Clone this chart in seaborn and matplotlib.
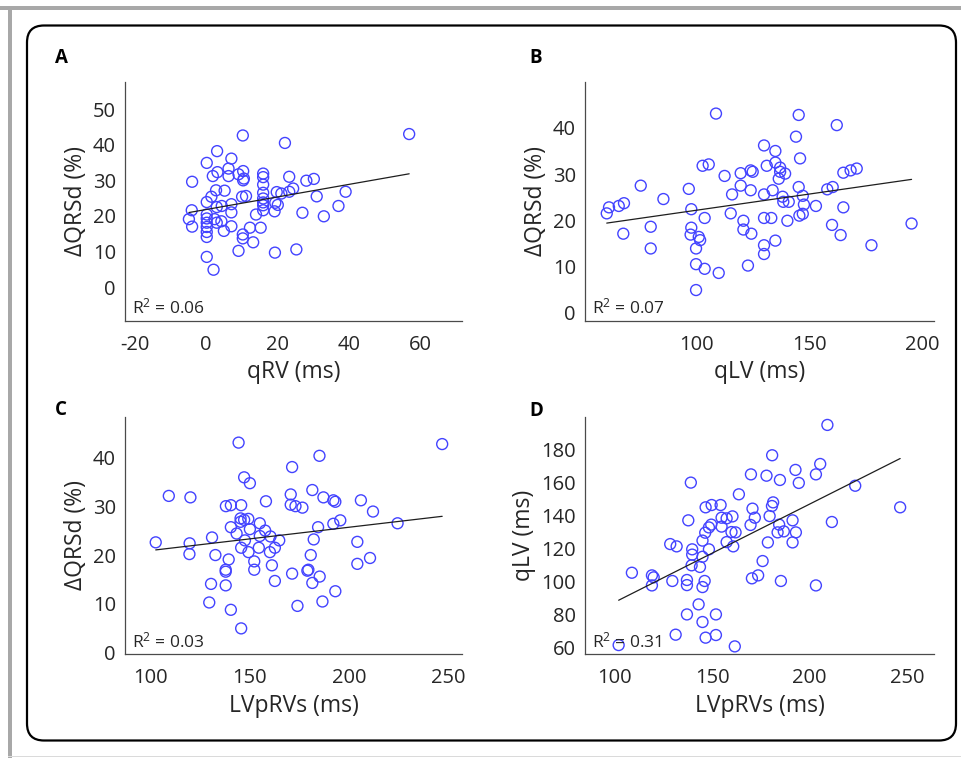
import numpy as np
import pandas as pd
import seaborn as sns
import matplotlib.pyplot as plt
from matplotlib.patches import FancyBboxPatch, Rectangle

# Panel A: qRV vs change in QRS duration
qrv_a = [56.9, 10.3, 22.1, 3.1, 7.1, 0.2, 6.3, 3.2, 10.4, 1.9,
         6.3, 9.1, 16.0, 16.0, 10.4, 10.6, -3.9, 23.3, 28.1, 30.2,
         16.0, 2.8, 5.2, 16.0, 19.8, 21.1, 23.3, 24.4, 39.1, 31.0,
         1.5, 10.1, 11.2, 0.2, 16.0, 16.0, 16.0, 16.0, 3.0, 4.4,
         7.1, 7.1, -4.0, 19.4, 20.1, 19.2, 14.0, 27.0, 37.1, 33.0,
         -4.8, -3.9, 0.2, 0.2, 0.2, 0.2, 0.2, 0.2, 2.4, 3.0,
         4.3, 7.1, 5.0, 12.3, 15.3, 10.3, 10.3, 13.2, 9.1, 19.3,
         25.3, 0.2, 2.1]
qrsd_a = [43.0, 42.6, 40.5, 38.2, 36.1, 34.9, 33.3, 32.3, 32.6, 31.2,
          31.2, 31.7, 31.9, 30.9, 30.0, 30.5, 29.6, 31.0, 29.9, 30.4,
          28.8, 27.2, 27.1, 26.5, 26.7, 26.3, 26.8, 27.7, 26.8, 25.5,
          25.4, 25.4, 25.6, 23.9, 24.9, 23.8, 23.0, 21.6, 22.5, 22.8,
          23.3, 21.0, 21.6, 23.7, 23.1, 21.3, 20.4, 20.9, 22.8, 19.9,
          19.1, 17.0, 20.4, 19.3, 18.1, 16.9, 15.5, 14.1, 19.1, 18.1,
          18.5, 17.1, 15.8, 16.7, 16.7, 14.8, 13.7, 12.6, 10.2, 9.7,
          10.6, 8.5, 4.9]

# Panel B: qLV vs change in QRS duration
qlv_b = [108.8, 145.3, 162.1, 144.1, 130.0, 135.0, 145.9, 135.0, 131.2, 102.9,
         105.6, 137.1, 137.1, 139.3, 136.5, 112.6, 119.7, 124.1, 125.0, 165.0,
         168.2, 170.9, 75.6, 96.8, 119.7, 124.1, 133.8, 145.3, 157.9, 160.3,
         115.9, 130.0, 147.1, 138.2, 138.5, 140.9, 85.6, 60.6, 61.6, 65.9,
         68.2, 97.9, 103.8, 115.3, 147.6, 152.9, 165.0, 145.6, 147.1, 130.0,
         133.2, 140.3, 120.9, 120.9, 124.4, 195.1, 160.0, 163.8, 177.4, 80.0,
         67.9, 97.9, 97.6, 101.2, 101.8, 100.0, 80.0, 130.0, 135.0, 130.0,
         100.0, 103.8, 110.0, 122.9, 100.0]
qrsd_b = [43.1, 42.8, 40.6, 38.1, 36.2, 35.0, 33.4, 32.5, 31.8, 31.8,
          32.1, 31.4, 30.5, 30.1, 29.0, 29.6, 30.2, 30.8, 30.5, 30.3,
          30.8, 31.2, 27.5, 26.8, 27.5, 26.5, 26.5, 27.2, 26.7, 27.2,
          25.6, 25.6, 25.3, 25.1, 24.0, 24.0, 24.6, 21.5, 22.8, 23.1,
          23.7, 22.4, 20.5, 21.5, 23.4, 23.1, 22.8, 21.0, 21.4, 20.5,
          20.5, 19.9, 19.9, 18.0, 17.1, 19.3, 19.0, 16.8, 14.6, 18.6,
          17.1, 18.4, 16.9, 16.4, 15.7, 13.9, 13.9, 14.6, 15.6, 12.7,
          10.5, 9.5, 8.6, 10.2, 4.9]

# Panel C: LVpRVs vs change in QRS duration
lvprvs_c = [144.3, 247.0, 185.1, 171.3, 147.1, 150.0, 181.5, 109.1, 120.0, 170.6,
            187.1, 158.1, 192.1, 193.1, 206.0, 212.1, 137.9, 140.4, 145.6, 170.6,
            173.0, 176.5, 145.3, 145.3, 147.1, 149.2, 155.0, 140.4, 184.4, 192.1,
            195.6, 224.5, 150.0, 143.3, 157.7, 155.0, 160.4, 130.9, 102.5, 119.6,
            147.5, 164.8, 182.2, 204.2, 145.6, 154.5, 162.6, 149.3, 160.1, 119.5,
            132.6, 180.7, 139.3, 152.2, 161.1, 204.2, 210.6, 137.8, 137.8, 152.2,
            171.3, 179.0, 179.5, 185.2, 181.5, 162.6, 130.4, 137.8, 193.1, 129.5,
            186.6, 174.0, 140.4, 145.6]
qrsd_c = [43.0, 42.7, 40.3, 38.0, 35.9, 34.7, 33.3, 32.1, 31.8, 32.4,
          31.8, 31.0, 31.2, 30.9, 31.2, 28.9, 30.0, 30.2, 30.2, 30.3,
          30.0, 29.7, 27.5, 26.8, 27.2, 27.4, 26.5, 25.7, 25.7, 26.4,
          27.1, 26.5, 25.3, 24.4, 25.0, 23.9, 23.8, 23.6, 22.6, 22.4,
          23.0, 23.0, 23.2, 22.7, 21.5, 21.5, 21.5, 20.6, 20.6, 20.2,
          20.0, 20.0, 19.1, 18.7, 17.9, 18.2, 19.4, 17.0, 16.6, 17.0,
          16.2, 16.8, 17.0, 15.6, 14.3, 14.7, 14.1, 13.8, 12.6, 10.3,
          10.5, 9.6, 8.8, 5.0]

# Panel D: LVpRVs vs qLV
lvprvs_d = [209.2, 180.8, 205.5, 192.8, 203.3, 169.9, 177.9, 184.8, 194.5, 139.0,
            223.5, 163.7, 146.6, 149.7, 154.3, 170.7, 181.3, 180.7, 246.6, 154.8,
            157.4, 160.4, 171.9, 179.5, 137.7, 191.3, 211.5, 149.5, 148.3, 154.8,
            169.7, 184.4, 146.4, 159.9, 162.0, 183.6, 186.8, 193.0, 145.0, 157.4,
            178.6, 191.3, 128.4, 131.7, 160.8, 139.7, 148.3, 139.7, 145.0, 139.4,
            143.7, 175.9, 108.7, 119.0, 119.9, 119.0, 129.5, 137.0, 137.0, 146.1,
            145.0, 170.4, 173.6, 185.3, 203.3, 143.0, 137.0, 151.9, 145.0, 131.2,
            146.6, 151.9, 101.9, 161.6]
qlv_d = [195.2, 176.8, 171.5, 167.9, 165.2, 165.2, 164.4, 161.8, 160.0, 160.2,
         158.3, 153.1, 145.2, 146.6, 146.6, 144.4, 148.2, 146.0, 145.2, 138.9,
         138.5, 139.7, 138.9, 139.9, 137.3, 137.3, 136.3, 134.7, 133.0, 133.5,
         134.5, 134.7, 129.8, 130.2, 130.0, 130.0, 130.6, 130.0, 125.0, 124.1,
         123.9, 123.9, 122.9, 121.5, 121.5, 119.7, 119.7, 116.5, 115.2, 110.0,
         109.0, 112.6, 105.5, 103.9, 102.7, 97.8, 100.5, 101.1, 98.0, 100.5,
         96.8, 102.1, 103.9, 100.5, 97.8, 86.3, 80.2, 80.2, 75.6, 67.9,
         66.1, 67.7, 61.6, 60.8]

panel_letters = ['A', 'B', 'C', 'D']
x_labels = ['qRV (ms)', 'qLV (ms)', 'LVpRVs (ms)', 'LVpRVs (ms)']
y_labels = ['\u0394QRSd (%)', '\u0394QRSd (%)', '\u0394QRSd (%)', 'qLV (ms)']
r2_labels = ['0.06', '0.07', '0.03', '0.31']

sns.set_theme(style='white')
plt.rcParams['font.family'] = ['Open Sans', 'DejaVu Sans']
plt.rcParams['mathtext.fontset'] = 'custom'
plt.rcParams['mathtext.rm'] = 'Open Sans'
plt.rcParams['mathtext.it'] = 'Open Sans'
plt.rcParams['axes.unicode_minus'] = False

text_col = '#262626'
axis_col = '#4a4a4a'
dot_col = '#4343ff'

W, H = 961, 758
fig = plt.figure(figsize=(W / 100, H / 100), dpi=100)

# background: grey page edge and rounded black frame, drawn in pixel units
bg = fig.add_axes([0, 0, 1, 1], zorder=-1)
bg.set_xlim(0, W)
bg.set_ylim(H, 0)
bg.axis('off')
bg.add_patch(Rectangle((0, 6), W, 4, color='#a8a8a8', lw=0))
bg.add_patch(Rectangle((8, 6), 4, H - 6, color='#a8a8a8', lw=0))
bg.add_patch(Rectangle((8, 755.5), W - 8, 1.5, color='#dadada', lw=0))
bg.add_patch(FancyBboxPatch((27, 25.5), 929, 715,
                            boxstyle='round,pad=0,rounding_size=17',
                            fill=False, ec='black', lw=1.6))

# layout in pixels: left, right, top, bottom of each axes
boxes = [(125, 462, 81.7, 321), (585, 934, 81.7, 321),
         (125, 462, 416.7, 654.3), (585, 934, 416.7, 654.3)]
letter_pos = [(55, 63.3), (529.5, 63.3), (55, 415), (529.5, 415.5)]
xlims = [(-22.7, 71.7), (51, 205), (87, 257), (84.6, 264)]
ylims = [(-9.5, 57.7), (-1.8, 50), (-0.3, 48.3), (56, 200.2)]
xticks = [[-20, 0, 20, 40, 60], [100, 150, 200], [100, 150, 200, 250], [100, 150, 200, 250]]
yticks = [np.arange(0, 51, 10), np.arange(0, 41, 10), np.arange(0, 41, 10), np.arange(60, 181, 20)]

panels = [(qrv_a, qrsd_a), (qlv_b, qrsd_b), (lvprvs_c, qrsd_c), (lvprvs_d, qlv_d)]

for i, (xs, ys) in enumerate(panels):
    l, r, t, b = boxes[i]
    ax = fig.add_axes([l / W, 1 - b / H, (r - l) / W, (b - t) / H])
    df = pd.DataFrame({'x': xs, 'y': ys})
    sns.regplot(data=df, x='x', y='y', ax=ax, ci=None, truncate=True,
                scatter_kws={'s': 62, 'facecolors': 'none', 'edgecolors': dot_col,
                             'linewidths': 1.0, 'alpha': 1},
                line_kws={'color': '#1e1e1e', 'lw': 0.9})
    ax.set_xlim(*xlims[i])
    ax.set_ylim(*ylims[i])
    ax.set_xticks(xticks[i])
    ax.set_yticks(yticks[i])
    sns.despine(ax=ax)
    for sp in ['left', 'bottom']:
        ax.spines[sp].set_color(axis_col)
        ax.spines[sp].set_linewidth(0.9)
    ax.tick_params(axis='both', direction='in', length=4, width=0.8,
                   color=axis_col, labelcolor=text_col, labelsize=14.5)
    ax.tick_params(axis='x', pad=10)
    ax.tick_params(axis='y', pad=6.5)
    ax.set_xlabel(x_labels[i], fontsize=16.5, color=text_col, labelpad=4)
    ax.set_ylabel(y_labels[i], fontsize=16.5, color=text_col, labelpad=3.5)
    ax.text(0.02, 0.03, r'R$^{2}$ = ' + r2_labels[i], transform=ax.transAxes,
            fontsize=12.5, color=text_col, va='baseline', ha='left')
    lx, ly = letter_pos[i]
    bg.text(lx, ly, panel_letters[i], fontsize=13.5, fontweight='bold',
            color='black', va='baseline', ha='left')

fig.savefig('out.png', dpi=100)
